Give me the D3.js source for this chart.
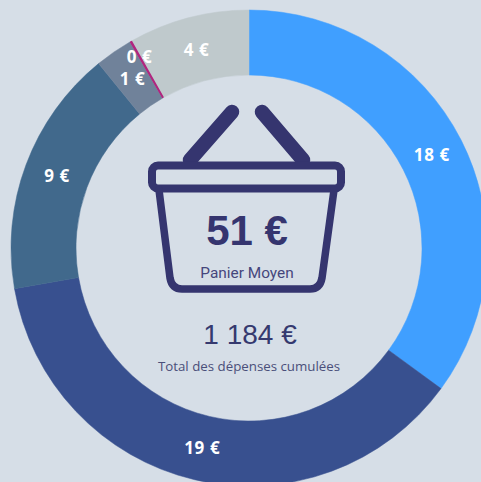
<!DOCTYPE html>
<html>
<head>
<meta charset="utf-8">
<script src="https://cdnjs.cloudflare.com/ajax/libs/d3/7.8.5/d3.min.js"></script>
<style>
  html, body { margin: 0; padding: 0; background: #d6dee7; overflow: hidden; }
  svg { display: block; }
</style>
</head>
<body>
<svg id="chart"></svg>
<script>
const WIDTH = 481;
const HEIGHT = 482;

// the labels only show the rounded values
const values = [17.9, 19.0, 8.6, 1.3, 0.06, 4.2];
const colors = ["#409fff", "#38508f", "#41698c", "#70829a", "#b0267f", "#bfc9cc"];
const labelRadius = [205, 205, 205, 205, 220, 205];

const BASKET_COLOR = "#35356f";

const svg = d3.select("#chart").attr("width", WIDTH).attr("height", HEIGHT);

const ring = svg.append("g").attr("transform", "translate(249,248)");

const pie = d3.pie().sort(null).value((d) => d);
const arc = d3.arc().innerRadius(173).outerRadius(238);
const slices = pie(values);

ring
  .selectAll("path")
  .data(slices)
  .enter()
  .append("path")
  .attr("d", arc)
  .attr("fill", (d, i) => colors[i])
  .attr("stroke", (d, i) => (i == 4 ? "none" : colors[i]))
  .attr("stroke-width", 0.5);

// the "0 €" slice is too thin to see as a wedge, so it gets a line of its own
ring
  .append("path")
  .attr("d", d3.arc().innerRadius(173).outerRadius(238)
    .startAngle(slices[4].startAngle).endAngle(slices[4].startAngle + 0.01)())
  .attr("fill", colors[4]);

ring
  .selectAll("text")
  .data(slices)
  .enter()
  .append("text")
  .attr("transform", (d, i) => {
    const c = d3.arc().innerRadius(labelRadius[i]).outerRadius(labelRadius[i]).centroid(d);
    return "translate(" + c + ")";
  })
  .attr("text-anchor", "middle")
  .attr("dy", "0.35em")
  .attr("fill", "#fff")
  .style("font", "bold 17px 'Open Sans'")
  .style("letter-spacing", "0.6px")
  .text((d) => Math.round(d.value) + " €");

// basket icon
const basket = svg
  .append("g")
  .attr("fill", "none")
  .attr("stroke", BASKET_COLOR)
  .attr("stroke-linecap", "round")
  .attr("stroke-linejoin", "round");

basket.append("path").attr("stroke-width", 14.5).attr("d", "M232 112L190 160");
basket.append("path").attr("stroke-width", 14.5).attr("d", "M262 112L303 160");
basket
  .append("rect")
  .attr("x", 152)
  .attr("y", 165.5)
  .attr("width", 189)
  .attr("height", 23)
  .attr("rx", 6)
  .attr("stroke-width", 8)
  .attr("fill", "#d6dee7");
basket
  .append("path")
  .attr("stroke-width", 7.5)
  .attr("d", "M159 190L170 278Q172 289 182 289L310 289Q320 289 322 278L334 190");

function centerText(str, x, y, font, color) {
  svg
    .append("text")
    .attr("x", x)
    .attr("y", y)
    .attr("text-anchor", "middle")
    .attr("fill", color)
    .style("font", font)
    .text(str);
}

centerText("51 €", 247, 245, "bold 42px 'Liberation Sans'", BASKET_COLOR);
centerText("Panier Moyen", 247, 278, "15.4px Roboto", "#45467c");
centerText("1 184 €", 250, 344, "28px 'Liberation Sans'", "#35396f");
centerText("Total des dépenses cumulées", 249, 371, "13.3px 'Open Sans'", "#4a4f7a");
</script>
</body>
</html>
